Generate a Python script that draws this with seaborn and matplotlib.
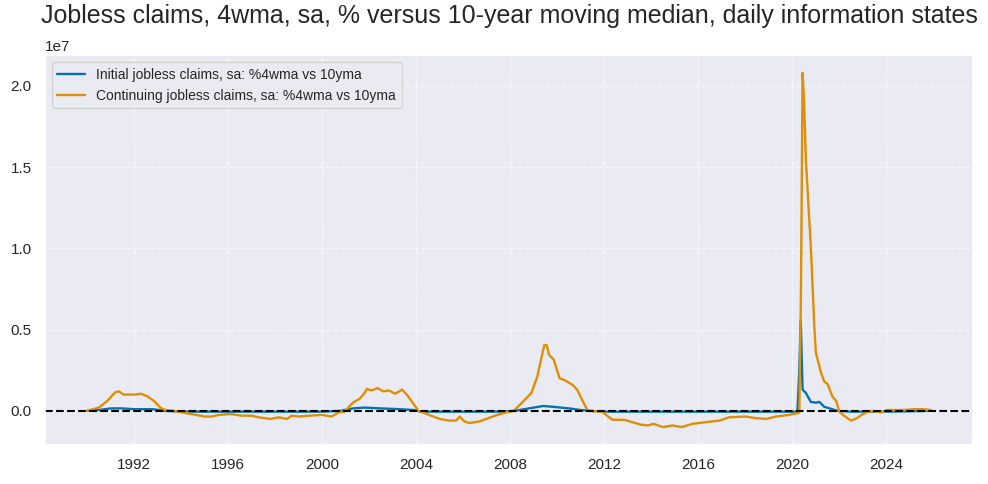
"""
Jobless claims vs 10-year moving median chart.
"""

import numpy as np
import pandas as pd
import matplotlib
matplotlib.use("Agg")
import matplotlib.pyplot as plt
import seaborn as sns

# values, in millions (axis shown as 1e7)
SCALE = 1e6

initial_years = [
    1990.0, 1990.5, 1991.0, 1991.5, 1992.0, 1992.8, 1993.3, 1994.0, 1996.0,
    1998.0, 2000.0, 2000.8, 2001.3, 2001.8, 2002.5, 2003.3, 2003.9, 2004.2,
    2006.0, 2007.5, 2008.2, 2008.8, 2009.4, 2009.8, 2010.5, 2011.0, 2011.4,
    2012.0, 2016.0, 2020.22, 2020.3, 2020.36, 2020.44, 2020.58, 2020.79,
    2021.0, 2021.15, 2021.36, 2021.7, 2021.9, 2022.5, 2024.0, 2025.9,
]
initial_vals = [
    0.0, 0.05, 0.15, 0.15, 0.1, 0.1, 0.0, -0.05, -0.05,
    -0.05, -0.05, 0.0, 0.15, 0.2, 0.15, 0.1, 0.05, -0.05,
    -0.05, -0.05, 0.0, 0.15, 0.3, 0.25, 0.15, 0.05, 0.0,
    -0.05, -0.05, -0.05, 2.5, 5.6, 1.3, 1.1, 0.55,
    0.5, 0.55, 0.25, 0.1, 0.0, -0.05, -0.05, 0.0,
]

continuing_years = [
    1990.0, 1990.5, 1990.85, 1991.2, 1991.35, 1991.55, 1992.0, 1992.3, 1992.55,
    1992.85, 1993.15, 1993.35, 1993.7, 1994.05, 1994.45, 1995.0, 1995.3, 1995.6,
    1996.1, 1996.6, 1997.0, 1997.3, 1997.8, 1998.15, 1998.5, 1998.7, 1999.0,
    1999.45, 2000.0, 2000.4, 2000.7, 2000.95, 2001.3, 2001.6, 2001.8, 2001.9,
    2002.1, 2002.35, 2002.6, 2002.85, 2003.1, 2003.4, 2003.6, 2003.85, 2004.1,
    2004.55, 2005.0, 2005.4, 2005.7, 2005.85, 2006.05, 2006.25, 2006.7, 2007.25,
    2007.8, 2008.15, 2008.5, 2008.9, 2009.15, 2009.3, 2009.45, 2009.55, 2009.65,
    2009.85, 2010.1, 2010.3, 2010.65, 2010.85, 2011.05, 2011.3, 2011.9, 2012.35,
    2012.85, 2013.2, 2013.55, 2013.85, 2014.1, 2014.5, 2014.9, 2015.3, 2015.75,
    2016.3, 2016.9, 2017.3, 2018.0, 2018.45, 2018.9, 2019.3, 2019.85, 2020.2,
    2020.3, 2020.37, 2020.44, 2020.5, 2020.58, 2020.79, 2020.94, 2021.0, 2021.22,
    2021.36, 2021.5, 2021.7, 2021.87, 2022.0, 2022.2, 2022.5, 2022.75, 2023.0,
    2023.15, 2023.4, 2023.8, 2024.0, 2024.7, 2025.2, 2025.55, 2025.9,
]
continuing_vals = [
    0.0, 0.2, 0.6, 1.15, 1.2, 1.0, 1.0, 1.05, 0.9,
    0.6, 0.15, 0.05, 0.0, -0.1, -0.2, -0.35, -0.35, -0.25,
    -0.2, -0.3, -0.3, -0.4, -0.5, -0.4, -0.5, -0.3, -0.35,
    -0.3, -0.25, -0.35, -0.1, -0.05, 0.5, 0.75, 1.1, 1.35,
    1.25, 1.4, 1.2, 1.25, 1.05, 1.3, 1.0, 0.5, 0.0,
    -0.25, -0.5, -0.6, -0.6, -0.35, -0.65, -0.75, -0.65, -0.35,
    -0.1, 0.0, 0.5, 1.1, 2.1, 3.1, 4.05, 4.05, 3.45,
    3.15, 2.0, 1.9, 1.6, 1.3, 0.7, 0.0, -0.05, -0.55,
    -0.55, -0.7, -0.85, -0.9, -0.8, -1.0, -0.9, -1.0, -0.8,
    -0.7, -0.6, -0.4, -0.35, -0.45, -0.5, -0.35, -0.25, -0.15,
    -0.1, 7.3, 20.8, 19.1, 15.4, 10.1, 5.2, 3.6, 2.35,
    1.8, 1.65, 0.9, 0.6, -0.05, -0.3, -0.6, -0.45, -0.2,
    -0.1, 0.0, -0.1, 0.05, 0.05, 0.1, 0.1, 0.05,
]

labels = [
    "Initial jobless claims, sa: %4wma vs 10yma",
    "Continuing jobless claims, sa: %4wma vs 10yma",
]
title = "Jobless claims, 4wma, sa, % versus 10-year moving median, daily information states"


def to_date(y):
    year = int(y)
    return pd.Timestamp(year, 1, 1) + pd.Timedelta(days=(y - year) * 365.25)


def make_frame(years, vals):
    return pd.DataFrame({
        "date": [to_date(y) for y in years],
        "value": np.array(vals) * SCALE,
    })


def main():
    sns.set_theme(style="darkgrid", palette="colorblind")
    plt.rcParams["font.family"] = ["Liberation Sans", "DejaVu Sans"]

    fig, ax = plt.subplots(figsize=(9.88, 4.84), dpi=100)
    colors = sns.color_palette("colorblind")

    sns.lineplot(data=make_frame(initial_years, initial_vals), x="date", y="value",
                 ax=ax, color=colors[0], label=labels[0], linewidth=1.7)
    sns.lineplot(data=make_frame(continuing_years, continuing_vals), x="date", y="value",
                 ax=ax, color=colors[1], label=labels[1], linewidth=1.7)

    ax.axhline(0, color="black", linestyle="--", linewidth=1.5)
    ax.grid(True, linestyle="--", alpha=0.6)
    ax.set_title(title, fontsize=18, pad=12)
    ax.set_xlabel("")
    ax.set_ylabel("")
    ax.legend(loc="upper left", fontsize=10)

    fig.subplots_adjust(left=0.0455, right=0.985, top=0.886, bottom=0.081)
    fig.savefig("out.png", dpi=100)
    plt.close(fig)


if __name__ == "__main__":
    main()
